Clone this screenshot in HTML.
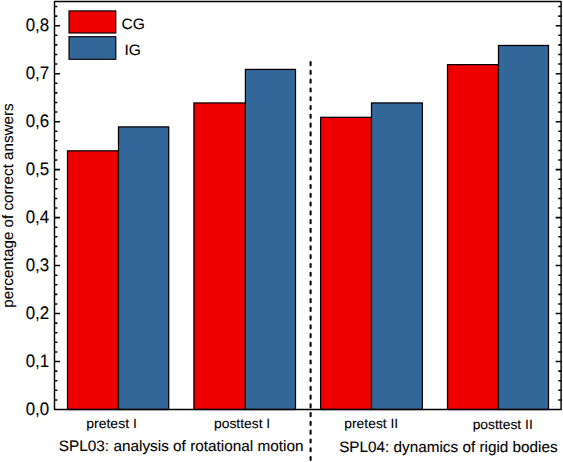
<!DOCTYPE html>
<html><head><meta charset="utf-8"><title>chart</title>
<style>html,body{margin:0;padding:0;background:#fff}svg{display:block}text{font-family:"Liberation Sans",sans-serif;fill:#000;stroke:#000;stroke-width:0.1px;text-rendering:geometricPrecision}</style></head><body>
<svg width="563" height="462" viewBox="0 0 563 462">
<rect x="0" y="0" width="563" height="462" fill="#fff"/>
<rect x="67.50" y="150.84" width="51.00" height="258.66" fill="#ee0000" stroke="#000" stroke-width="1.25"/>
<rect x="118.50" y="126.89" width="50.20" height="282.61" fill="#336699" stroke="#000" stroke-width="1.25"/>
<rect x="193.90" y="102.94" width="51.50" height="306.56" fill="#ee0000" stroke="#000" stroke-width="1.25"/>
<rect x="245.40" y="69.41" width="50.10" height="340.09" fill="#336699" stroke="#000" stroke-width="1.25"/>
<rect x="320.60" y="117.31" width="50.90" height="292.19" fill="#ee0000" stroke="#000" stroke-width="1.25"/>
<rect x="371.50" y="102.94" width="50.90" height="306.56" fill="#336699" stroke="#000" stroke-width="1.25"/>
<rect x="447.50" y="64.62" width="51.00" height="344.88" fill="#ee0000" stroke="#000" stroke-width="1.25"/>
<rect x="498.50" y="45.46" width="50.00" height="364.04" fill="#336699" stroke="#000" stroke-width="1.25"/>
<line x1="310.6" y1="62.1" x2="310.6" y2="464" stroke="#000" stroke-width="2.1" stroke-linecap="round" stroke-dasharray="3.1 5.675"/>
<rect x="54.5" y="1.42" width="506.60" height="408.08" fill="none" stroke="#000" stroke-width="1.45" stroke-linejoin="round"/>
<path d="M54.5 399.90h2.8M561.1 399.90h-2.8M54.5 390.31h2.8M561.1 390.31h-2.8M54.5 380.71h2.8M561.1 380.71h-2.8M54.5 371.12h2.8M561.1 371.12h-2.8M54.5 361.52h5.4M561.1 361.52h-5.4M54.5 351.93h2.8M561.1 351.93h-2.8M54.5 342.33h2.8M561.1 342.33h-2.8M54.5 332.74h2.8M561.1 332.74h-2.8M54.5 323.14h2.8M561.1 323.14h-2.8M54.5 313.55h5.4M561.1 313.55h-5.4M54.5 303.95h2.8M561.1 303.95h-2.8M54.5 294.36h2.8M561.1 294.36h-2.8M54.5 284.76h2.8M561.1 284.76h-2.8M54.5 275.17h2.8M561.1 275.17h-2.8M54.5 265.58h5.4M561.1 265.58h-5.4M54.5 255.98h2.8M561.1 255.98h-2.8M54.5 246.38h2.8M561.1 246.38h-2.8M54.5 236.79h2.8M561.1 236.79h-2.8M54.5 227.19h2.8M561.1 227.19h-2.8M54.5 217.60h5.4M561.1 217.60h-5.4M54.5 208.00h2.8M561.1 208.00h-2.8M54.5 198.41h2.8M561.1 198.41h-2.8M54.5 188.81h2.8M561.1 188.81h-2.8M54.5 179.22h2.8M561.1 179.22h-2.8M54.5 169.62h5.4M561.1 169.62h-5.4M54.5 160.03h2.8M561.1 160.03h-2.8M54.5 150.44h2.8M561.1 150.44h-2.8M54.5 140.84h2.8M561.1 140.84h-2.8M54.5 131.25h2.8M561.1 131.25h-2.8M54.5 121.65h5.4M561.1 121.65h-5.4M54.5 112.06h2.8M561.1 112.06h-2.8M54.5 102.46h2.8M561.1 102.46h-2.8M54.5 92.87h2.8M561.1 92.87h-2.8M54.5 83.27h2.8M561.1 83.27h-2.8M54.5 73.67h5.4M561.1 73.67h-5.4M54.5 64.08h2.8M561.1 64.08h-2.8M54.5 54.49h2.8M561.1 54.49h-2.8M54.5 44.89h2.8M561.1 44.89h-2.8M54.5 35.29h2.8M561.1 35.29h-2.8M54.5 25.70h5.4M561.1 25.70h-5.4M54.5 16.10h2.8M561.1 16.10h-2.8M54.5 6.51h2.8M561.1 6.51h-2.8" stroke="#000" stroke-width="1.55" fill="none"/>
<text transform="translate(49.2 414.65) scale(0.935 1)" font-size="18.1" text-anchor="end">0,0</text>
<text transform="translate(49.2 366.67) scale(0.935 1)" font-size="18.1" text-anchor="end">0,1</text>
<text transform="translate(49.2 318.70) scale(0.935 1)" font-size="18.1" text-anchor="end">0,2</text>
<text transform="translate(49.2 270.73) scale(0.935 1)" font-size="18.1" text-anchor="end">0,3</text>
<text transform="translate(49.2 222.75) scale(0.935 1)" font-size="18.1" text-anchor="end">0,4</text>
<text transform="translate(49.2 174.78) scale(0.935 1)" font-size="18.1" text-anchor="end">0,5</text>
<text transform="translate(49.2 126.80) scale(0.935 1)" font-size="18.1" text-anchor="end">0,6</text>
<text transform="translate(49.2 78.83) scale(0.935 1)" font-size="18.1" text-anchor="end">0,7</text>
<text transform="translate(49.2 30.85) scale(0.935 1)" font-size="18.1" text-anchor="end">0,8</text>
<text transform="translate(12.6 205.5) rotate(-90)" font-size="15.2" text-anchor="middle">percentage of correct answers</text>
<text transform="translate(111.5 427.9) scale(1.039 1)" font-size="13.5" text-anchor="middle">pretest I</text>
<text transform="translate(242.1 427.6) scale(1.027 1)" font-size="13.5" text-anchor="middle">posttest I</text>
<text transform="translate(371.25 427.6) scale(1.027 1)" font-size="13.5" text-anchor="middle">pretest II</text>
<text transform="translate(502.7 429.0) scale(1.027 1)" font-size="13.5" text-anchor="middle">posttest II</text>
<text transform="translate(181.2 451.2) scale(1.0165 1)" font-size="15.1" text-anchor="middle">SPL03: analysis of rotational motion</text>
<text transform="translate(448.4 452.05) scale(1.0165 1)" font-size="15.05" text-anchor="middle">SPL04: dynamics of rigid bodies</text>
<rect x="69" y="10.9" width="46.8" height="22.1" fill="#ee0000" stroke="#000" stroke-width="1.15"/>
<rect x="69" y="36.7" width="46.8" height="22.6" fill="#336699" stroke="#000" stroke-width="1.15"/>
<text transform="translate(133.3 28.5) scale(1.04 1)" font-size="15.0" text-anchor="middle" stroke="none">CG</text>
<text transform="translate(132.7 54.8) scale(1.04 1)" font-size="15.0" text-anchor="middle" stroke="none">IG</text>
</svg></body></html>
